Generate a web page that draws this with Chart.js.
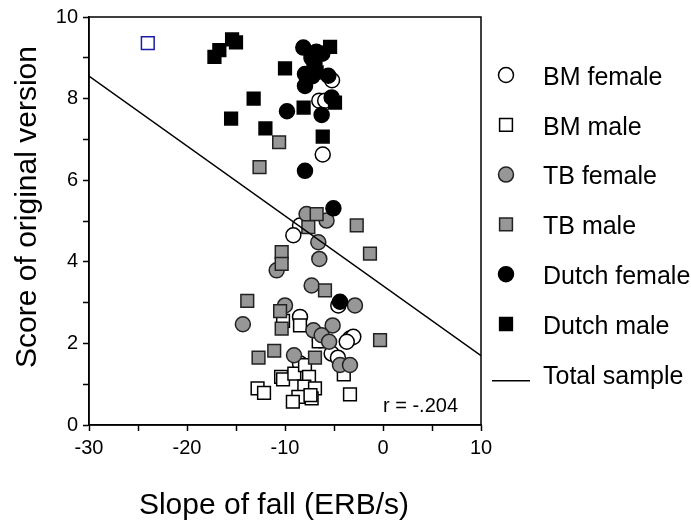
<!DOCTYPE html>
<html>
<head>
<meta charset="utf-8">
<script src="https://cdn.jsdelivr.net/npm/chart.js@4.4.1/dist/chart.umd.min.js"></script>
<style>
  html, body { margin: 0; padding: 0; background: #fff; }
</style>
</head>
<body>
<canvas id="grafico" width="691" height="525"></canvas>
<script>
// data
const bmFemaleX = [-5.2, -6.5, -5.9, -6.15, -8.47, -9.15, -8.47, -6.43, -3.37, -3.03, -3.7, -4.56, -5.24, -4.6, -8.47];
const bmFemaleY = [8.45, 7.95, 7.95, 6.63, 4.89, 4.65, 2.65, 2.08, 2.12, 2.16, 2.04, 2.93, 1.75, 1.65, 1.51];

const bmMaleX = [-24.0, -10.2, -8.47, -6.56, -4.0, -10.4, -10.2, -9.05, -7.96, -7.55, -12.8, -12.14, -8.03, -6.94, -8.64, -9.2, -7.28, -7.4, -3.37];
const bmMaleY = [9.36, 2.55, 2.44, 2.05, 1.24, 1.18, 1.12, 1.26, 1.47, 1.18, 0.9, 0.79, 0.94, 0.9, 0.69, 0.57, 0.65, 0.73, 0.75];

const tbFemaleX = [-7.8, -5.76, -6.6, -6.5, -10.85, -7.28, -14.3, -10.0, -7.1, -5.14, -6.26, -5.5, -2.86, -9.08, -4.39, -3.37];
const tbFemaleY = [5.17, 5.01, 4.48, 4.07, 3.79, 3.42, 2.47, 2.93, 2.32, 2.44, 2.2, 2.04, 2.93, 1.71, 1.47, 1.47];

const tbMaleX = [-10.6, -12.6, -6.77, -7.62, -2.68, -1.33, -10.34, -10.34, -5.92, -13.85, -10.5, -10.34, -11.1, -12.7, -6.94, -0.3];
const tbMaleY = [6.93, 6.32, 5.17, 4.85, 4.89, 4.2, 4.24, 3.95, 3.3, 3.04, 2.79, 2.36, 1.82, 1.65, 1.65, 2.08];

const dutchFemaleX = [-8.13, -7.3, -6.8, -6.2, -7.0, -7.96, -7.2, -5.58, -7.96, -5.24, -9.8, -6.26, -7.96, -5.06, -4.39];
const dutchFemaleY = [9.25, 9.0, 9.15, 9.1, 8.85, 8.6, 8.55, 8.56, 8.31, 8.03, 7.69, 7.6, 6.23, 5.31, 3.02];

const dutchMaleX = [-17.2, -16.7, -15.4, -15.0, -10.0, -13.2, -15.5, -12.0, -8.1, -6.15, -5.4, -6.94, -6.77, -4.9];
const dutchMaleY = [9.02, 9.19, 9.45, 9.38, 8.74, 8.0, 7.51, 7.27, 7.78, 7.07, 9.27, 9.0, 8.64, 7.9];

const retaX = [-30, 10];
const retaY = [8.55, 1.70];

const xTicks = [-30, -20, -10, 0, 10];
const yTicks = [0, 2, 4, 6, 8, 10];
const rotuloR = 'r = -.204';
const tituloX = 'Slope of fall (ERB/s)';
const tituloY = 'Score of original version';

const FONTE = '"Liberation Sans", Arial, sans-serif';
const CINZA = '#979797';

function pontos(xs, ys) {
    return xs.map((x, i) => ({ x: x, y: ys[i] }));
}

const grupos = [
    { label: 'BM female', x: bmFemaleX, y: bmFemaleY, estilo: 'circle', fundo: '#ffffff', borda: '#000000', ordem: 6 },
    { label: 'BM male', x: bmMaleX, y: bmMaleY, estilo: 'rect', fundo: '#ffffff', borda: '#000000', ordem: 5 },
    { label: 'TB female', x: tbFemaleX, y: tbFemaleY, estilo: 'circle', fundo: CINZA, borda: '#222222', ordem: 4 },
    { label: 'TB male', x: tbMaleX, y: tbMaleY, estilo: 'rect', fundo: CINZA, borda: '#222222', ordem: 3 },
    { label: 'Dutch female', x: dutchFemaleX, y: dutchFemaleY, estilo: 'circle', fundo: '#000000', borda: '#000000', ordem: 2 },
    { label: 'Dutch male', x: dutchMaleX, y: dutchMaleY, estilo: 'rect', fundo: '#000000', borda: '#000000', ordem: 1 }
];

const datasets = grupos.map(g => ({
    type: 'scatter',
    label: g.label,
    data: pontos(g.x, g.y),
    order: g.ordem,
    pointStyle: g.estilo,
    pointRadius: g.estilo === 'circle' ? 7.5 : 9,
    pointBackgroundColor: g.fundo,
    // the lone BM male point top left is drawn in blue in the original
    pointBorderColor: ctx => (g.label === 'BM male' && ctx.dataIndex === 0) ? '#1c1ca8' : g.borda,
    pointBorderWidth: 1.5,
    pointHoverRadius: 0
}));

datasets.push({
    type: 'line',
    label: 'Total sample',
    data: pontos(retaX, retaY),
    order: 0,
    borderColor: '#000000',
    borderWidth: 1.4,
    pointRadius: 0,
    fill: false
});

// frame, axis titles, legend and r text
const extras = {
    id: 'extras',
    afterDraw(chart) {
        const ctx = chart.ctx;
        const a = chart.chartArea;
        ctx.save();
        ctx.strokeStyle = '#000';
        ctx.lineWidth = 1.5;
        ctx.strokeRect(a.left, a.top, a.right - a.left, a.bottom - a.top);

        ctx.fillStyle = '#000';
        ctx.textBaseline = 'middle';

        // axis titles
        ctx.font = '30px ' + FONTE;
        ctx.textAlign = 'center';
        ctx.fillText(tituloX, 274, 506);
        ctx.save();
        ctx.translate(28, 207);
        ctx.rotate(-Math.PI / 2);
        ctx.fillText(tituloY, 0, 0);
        ctx.restore();

        ctx.font = '20px ' + FONTE;
        ctx.textAlign = 'left';
        ctx.fillText(rotuloR, chart.scales.x.getPixelForValue(0), chart.scales.y.getPixelForValue(0.45));

        const mx = 506, tx = 543, y0 = 78, passo = 49.8;
        ctx.font = '25px ' + FONTE;
        grupos.forEach((g, i) => {
            const yy = y0 + i * passo;
            ctx.fillStyle = g.fundo;
            ctx.strokeStyle = g.borda;
            ctx.lineWidth = 1.5;
            ctx.beginPath();
            if (g.estilo === 'circle') {
                ctx.arc(mx, yy - 3, 7.5, 0, Math.PI * 2);
            } else {
                ctx.rect(mx - 6.4, yy - 9.4, 12.8, 12.8);
            }
            ctx.fill();
            ctx.stroke();
            ctx.fillStyle = '#000';
            ctx.fillText(g.label, tx, yy);
        });
        const yl = y0 + 6 * passo;
        ctx.strokeStyle = '#000';
        ctx.lineWidth = 1.4;
        ctx.beginPath();
        ctx.moveTo(492, yl + 4);
        ctx.lineTo(530, yl + 4);
        ctx.stroke();
        ctx.fillText('Total sample', tx, yl);
        ctx.restore();
    }
};

new Chart(document.getElementById('grafico'), {
    data: { datasets: datasets },
    plugins: [extras],
    options: {
        responsive: false,
        animation: false,
        layout: { padding: { top: 16, right: 210, left: 0, bottom: 0 } },
        plugins: { legend: { display: false }, tooltip: { enabled: false } },
        scales: {
            x: {
                type: 'linear',
                min: -30,
                max: 10,
                afterFit: s => { s.height = 100; },
                ticks: {
                    stepSize: 5,
                    autoSkip: false,
                    maxRotation: 0,
                    padding: 5,
                    color: '#000',
                    font: { family: FONTE, size: 20 },
                    callback: v => xTicks.includes(v) ? v : ''
                },
                grid: { drawOnChartArea: false, drawTicks: true, tickLength: 6, tickColor: '#000', tickWidth: 1.5 },
                border: { display: true, color: '#000', width: 1.5 }
            },
            y: {
                type: 'linear',
                min: 0,
                max: 10,
                afterFit: s => { s.width = 89; },
                ticks: {
                    stepSize: 1,
                    autoSkip: false,
                    padding: 5,
                    color: '#000',
                    font: { family: FONTE, size: 20 },
                    callback: v => yTicks.includes(v) ? v : ''
                },
                grid: { drawOnChartArea: false, drawTicks: true, tickLength: 6, tickColor: '#000', tickWidth: 1.5 },
                border: { display: true, color: '#000', width: 1.5 }
            }
        }
    }
});
</script>
</body>
</html>
